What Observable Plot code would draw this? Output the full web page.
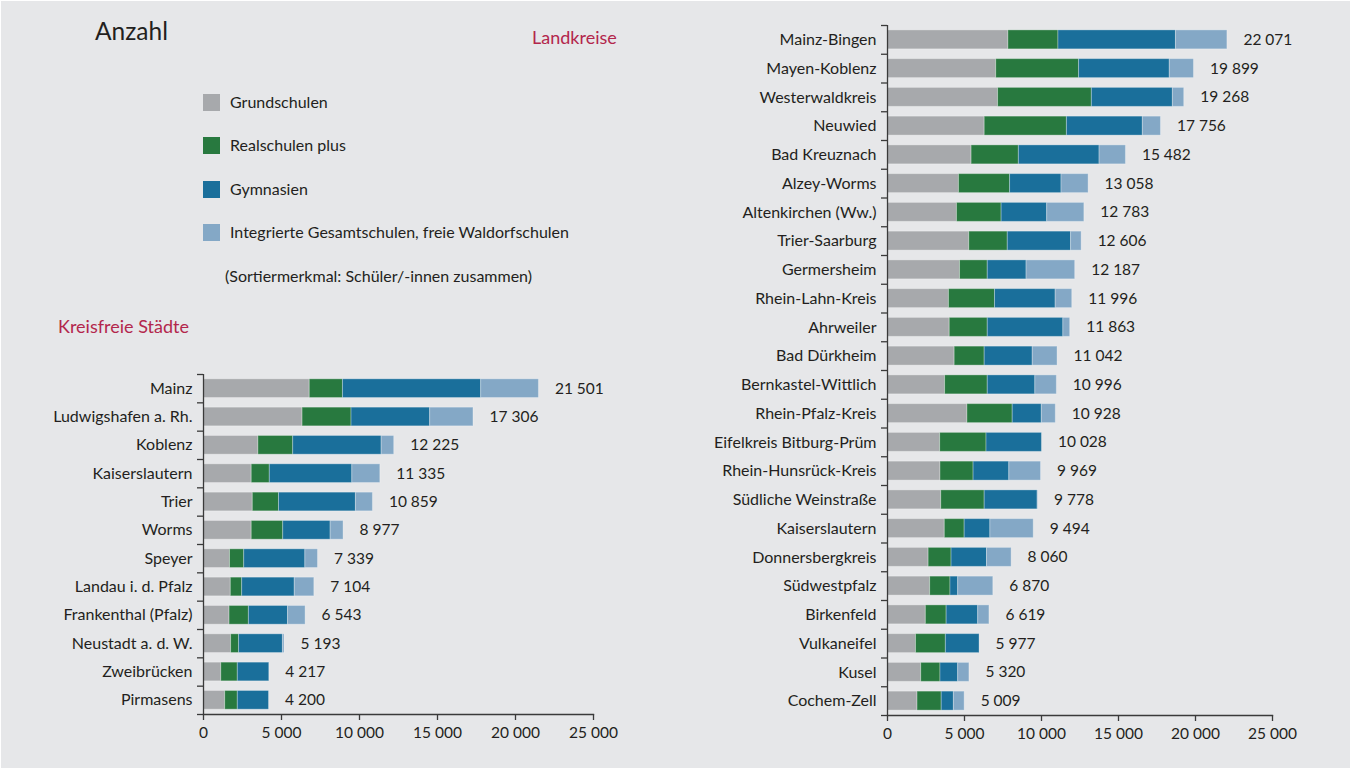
<!DOCTYPE html>
<html>
<head>
<meta charset="utf-8">
<script src="https://cdn.jsdelivr.net/npm/d3@7"></script>
<script src="https://cdn.jsdelivr.net/npm/@observablehq/plot@0.6"></script>
<style>
  html, body { margin: 0; padding: 0; background: #ffffff; }
  #root { position: absolute; left: 1px; top: 1px; width: 1349px; height: 767px; background: #e6e7e9; font-family: Lato, "Open Sans", sans-serif; color: #231f20; overflow: hidden; }
  .abs { position: absolute; white-space: nowrap; }
  .title { font-size: 24.5px; }
  .red { color: #b3264c; font-size: 18px; }
  .leg { font-size: 16px; line-height: 18px; }
  .sw { position: absolute; width: 17px; height: 17px; }
  #left, #right { position: absolute; }
</style>
</head>
<body>
<div id="root">
  <div class="abs title" style="left:94px; top:15px;">Anzahl</div>
  <div class="abs red" style="left:531px; top:25px;">Landkreise</div>
  <div class="abs red" style="left:57px; top:314px;">Kreisfreie Städte</div>
  <div id="legend"></div>
  <div class="abs leg" style="left:224px; top:266px;">(Sortiermerkmal: Schüler/-innen zusammen)</div>
  <div id="left"></div>
  <div id="right"></div>
</div>
<script>
// ---------- data ----------
const seriesNames = ["Grundschulen", "Realschulen plus", "Gymnasien", "Integrierte Gesamtschulen, freie Waldorfschulen"];
const seriesColors = ["#a7a9ac", "#28793f", "#1a6f9b", "#84a8c6"];

// Kreisfreie Städte
const citiesCats = ["Mainz", "Ludwigshafen a. Rh.", "Koblenz", "Kaiserslautern", "Trier", "Worms", "Speyer", "Landau i. d. Pfalz", "Frankenthal (Pfalz)", "Neustadt a. d. W.", "Zweibrücken", "Pirmasens"];
const citiesGrund = [6810, 6350, 3520, 3090, 3160, 3090, 1700, 1750, 1670, 1770, 1140, 1390];
const citiesReal  = [2130, 3140, 2230, 1160, 1680, 2020, 910, 730, 1240, 510, 1060, 810];
const citiesGym   = [8860, 5040, 5670, 5290, 4930, 3040, 3920, 3370, 2510, 2810, 2017, 2000];
const citiesIGS   = [3701, 2776, 805, 1795, 1089, 827, 809, 1254, 1123, 103, 0, 0];
const citiesTotal = [21501, 17306, 12225, 11335, 10859, 8977, 7339, 7104, 6543, 5193, 4217, 4200];

// Landkreise
const districtsCats = ["Mainz-Bingen", "Mayen-Koblenz", "Westerwaldkreis", "Neuwied", "Bad Kreuznach", "Alzey-Worms", "Altenkirchen (Ww.)", "Trier-Saarburg", "Germersheim", "Rhein-Lahn-Kreis", "Ahrweiler", "Bad Dürkheim", "Bernkastel-Wittlich", "Rhein-Pfalz-Kreis", "Eifelkreis Bitburg-Prüm", "Rhein-Hunsrück-Kreis", "Südliche Weinstraße", "Kaiserslautern", "Donnersbergkreis", "Südwestpfalz", "Birkenfeld", "Vulkaneifel", "Kusel", "Cochem-Zell"];
const districtsGrund = [7850, 7060, 7180, 6310, 5460, 4640, 4510, 5310, 4710, 3990, 4040, 4360, 3740, 5190, 3420, 3440, 3490, 3720, 2670, 2770, 2490, 1850, 2190, 1950];
const districtsReal  = [3250, 5380, 6090, 5340, 3070, 3320, 2900, 2500, 1800, 2990, 2470, 1950, 2770, 2940, 3010, 2150, 2820, 1290, 1490, 1320, 1350, 1940, 1250, 1570];
const districtsGym   = [7630, 5890, 5260, 4930, 5240, 3340, 2960, 4110, 2520, 3940, 4910, 3120, 3090, 1890, 3598, 2320, 3440, 1670, 2300, 500, 2050, 2187, 1150, 790];
const districtsIGS   = [3341, 1569, 738, 1176, 1712, 1758, 2413, 686, 3157, 1076, 443, 1612, 1396, 908, 0, 2059, 28, 2814, 1600, 2280, 729, 0, 730, 699];
const districtsTotal = [22071, 19899, 19268, 17756, 15482, 13058, 12783, 12606, 12187, 11996, 11863, 11042, 10996, 10928, 10028, 9969, 9778, 9494, 8060, 6870, 6619, 5977, 5320, 5009];

const xTicks = [0, 5000, 10000, 15000, 20000, 25000];

// ---------- helpers ----------
const fmt = d3.formatLocale({decimal: ",", thousands: " ", grouping: [3], currency: ["", ""]}).format(",d");

function longTable(cats, arrays) {
  const rows = [];
  cats.forEach((c, i) => {
    arrays.forEach((arr, s) => rows.push({cat: c, series: seriesNames[s], value: arr[i]}));
  });
  return rows;
}

function makeChart({cats, arrays, totals, width, height, marginLeft, marginTop, marginBottom, marginRight}) {
  const data = longTable(cats, arrays);
  const step = (height - marginTop - marginBottom) / cats.length;
  const axisColor = "#3a3a3a";
  return Plot.plot({
    width, height, marginLeft, marginTop, marginBottom, marginRight,
    style: {fontFamily: "Lato, 'Open Sans', sans-serif", fontSize: "16px", color: "#231f20", background: "transparent", overflow: "visible"},
    x: {domain: [0, 25000], axis: null},
    y: {domain: cats, paddingInner: 0.34, paddingOuter: 0.17, round: false, axis: null},
    color: {domain: seriesNames, range: seriesColors},
    marks: [
      Plot.barX(data, Plot.stackX({x: "value", y: "cat", fill: "series", order: null, stroke: "#ffffff", strokeOpacity: 0.3, strokeWidth: 1})),
      Plot.text(cats, {y: d => d, x: (d, i) => totals[i], text: (d, i) => fmt(totals[i]), dx: 16, textAnchor: "start", fill: "#231f20", fontSize: 15.5}),
      Plot.axisY({tickSize: 0, tickPadding: 11, fontSize: 16, label: null}),
      Plot.ruleY(cats, {y: d => d, x1: 0, x2: 0, insetLeft: -6, dy: -step / 2, stroke: axisColor, strokeWidth: 1.3}),
      Plot.ruleY([cats[cats.length - 1]], {y: d => d, x1: 0, x2: 0, insetLeft: -6, dy: step / 2, stroke: axisColor, strokeWidth: 1.3}),
      Plot.ruleX([0], {stroke: axisColor, strokeWidth: 1.3}),
      Plot.frame({anchor: "bottom", stroke: axisColor, strokeWidth: 1.3}),
      Plot.axisX({ticks: xTicks, tickFormat: fmt, tickSize: 6, tickPadding: 6, fontSize: 15.5, label: null, stroke: axisColor, strokeWidth: 1.3})
    ]
  });
}

// ---------- legend ----------
const legend = document.getElementById("legend");
const legendTops = [93, 136, 180, 223];
seriesNames.forEach((name, i) => {
  const sw = document.createElement("div");
  sw.className = "sw";
  sw.style.left = "202px";
  sw.style.top = legendTops[i] + "px";
  sw.style.background = seriesColors[i];
  legend.appendChild(sw);
  const t = document.createElement("div");
  t.className = "abs leg";
  t.style.left = "229px";
  t.style.top = (legendTops[i] - 1) + "px";
  t.textContent = name;
  legend.appendChild(t);
});

// ---------- charts ----------
const left = document.getElementById("left");
left.style.left = "-1px";
left.style.top = "339px";
left.appendChild(makeChart({
  cats: citiesCats, arrays: [citiesGrund, citiesReal, citiesGym, citiesIGS], totals: citiesTotal,
  width: 630, height: 414, marginLeft: 203, marginTop: 34, marginBottom: 40, marginRight: 37
}));

const right = document.getElementById("right");
right.style.left = "659px";
right.style.top = "-1px";
right.appendChild(makeChart({
  cats: districtsCats, arrays: [districtsGrund, districtsReal, districtsGym, districtsIGS], totals: districtsTotal,
  width: 650, height: 755, marginLeft: 227, marginTop: 25, marginBottom: 40, marginRight: 38
}));
</script>
</body>
</html>
